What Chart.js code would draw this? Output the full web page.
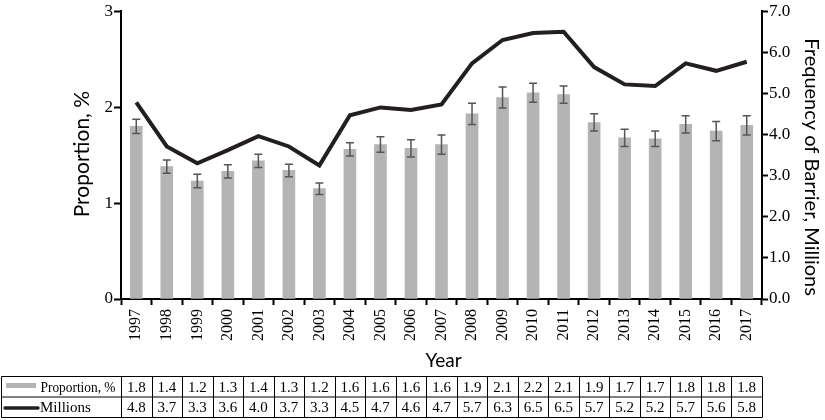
<!DOCTYPE html>
<html>
<head>
<meta charset="utf-8">
<script src="https://cdn.jsdelivr.net/npm/chart.js@4"></script>
<style>
  html, body { margin: 0; padding: 0; background: #fff; }
  #wrap { width: 825px; height: 420px; position: relative; }
</style>
</head>
<body>
<div id="wrap"><canvas id="c" width="825" height="420"></canvas></div>
<script>
const years = ['1997','1998','1999','2000','2001','2002','2003','2004','2005','2006','2007','2008','2009','2010','2011','2012','2013','2014','2015','2016','2017'];
const proportion = [1.80,1.38,1.23,1.33,1.44,1.34,1.15,1.56,1.61,1.57,1.61,1.93,2.10,2.15,2.13,1.84,1.68,1.67,1.82,1.75,1.81];
const proportionErr = [0.075,0.07,0.07,0.07,0.07,0.065,0.06,0.07,0.08,0.09,0.10,0.11,0.11,0.10,0.09,0.09,0.09,0.08,0.09,0.10,0.10];
const millions = [4.78,3.71,3.30,3.62,3.96,3.71,3.25,4.47,4.66,4.60,4.73,5.73,6.30,6.47,6.50,5.64,5.22,5.18,5.73,5.55,5.77];
const tableProportion = ['1.8','1.4','1.2','1.3','1.4','1.3','1.2','1.6','1.6','1.6','1.6','1.9','2.1','2.2','2.1','1.9','1.7','1.7','1.8','1.8','1.8'];
const tableMillions = ['4.8','3.7','3.3','3.6','4.0','3.7','3.3','4.5','4.7','4.6','4.7','5.7','6.3','6.5','6.5','5.7','5.2','5.2','5.7','5.6','5.8'];
const leftTicks = [0,1,2,3];
const rightTicks = [0,1,2,3,4,5,6,7];
const leftTitle = 'Proportion, %';
const rightTitle = 'Frequency of Barrier, Millions';
const xTitle = 'Year';

const SERIF = '"Liberation Serif", "Times New Roman", serif';
const SANS = 'Lato, "Open Sans", sans-serif';

const errorBars = {
  id: 'errorBars',
  afterDatasetDraw(chart, args) {
    if (args.index !== 0) return;
    const ctx = chart.ctx;
    const y = chart.scales.y;
    const meta = chart.getDatasetMeta(0);
    ctx.save();
    ctx.strokeStyle = '#555555';
    ctx.lineWidth = 1.5;
    meta.data.forEach((bar, i) => {
      const x = bar.x;
      const top = y.getPixelForValue(proportion[i] + proportionErr[i]);
      const bot = y.getPixelForValue(proportion[i] - proportionErr[i]);
      ctx.beginPath();
      ctx.moveTo(x, top); ctx.lineTo(x, bot);
      ctx.moveTo(x - 4, top); ctx.lineTo(x + 4, top);
      ctx.moveTo(x - 4, bot); ctx.lineTo(x + 4, bot);
      ctx.stroke();
    });
    ctx.restore();
  }
};

const axisTitles = {
  id: 'axisTitles',
  afterDraw(chart) {
    const ctx = chart.ctx;
    const area = chart.chartArea;
    ctx.save();
    ctx.fillStyle = '#000';
    ctx.textAlign = 'center';
    ctx.textBaseline = 'middle';
    // left
    ctx.save();
    ctx.translate(82, area.top + (area.bottom - area.top) / 2 - 1);
    ctx.rotate(-Math.PI / 2);
    ctx.font = '21px ' + SANS;
    ctx.fillText(leftTitle, 0, 0);
    ctx.restore();
    // right
    ctx.save();
    ctx.translate(811, area.top + (area.bottom - area.top) / 2 + 12);
    ctx.rotate(Math.PI / 2);
    ctx.font = '20px ' + SANS;
    ctx.fillText(rightTitle, 0, 0);
    ctx.restore();
    // x
    ctx.font = '19px ' + SANS;
    ctx.fillText(xTitle, (area.left + area.right) / 2 + 2, 361);
    ctx.restore();
  }
};

const dataTable = {
  id: 'dataTable',
  afterDraw(chart) {
    const ctx = chart.ctx;
    const x = chart.scales.x;
    const n = years.length;
    const left = 1.5, right = x.right;
    const cw = (x.right - x.left) / n;
    const t = 376.5, m = 397, b = 417.5;
    ctx.save();
    ctx.strokeStyle = '#000';
    ctx.lineWidth = 1;
    ctx.beginPath();
    ctx.moveTo(left, t); ctx.lineTo(right, t);
    ctx.moveTo(left, m); ctx.lineTo(right, m);
    ctx.moveTo(left, b); ctx.lineTo(right, b);
    ctx.moveTo(left, t); ctx.lineTo(left, b);
    for (let i = 0; i <= n; i++) {
      const xx = Math.round(x.left + i * cw) + 0.5;
      ctx.moveTo(xx, t); ctx.lineTo(xx, b);
    }
    ctx.stroke();
    // legend markers
    ctx.fillStyle = '#b4b4b4';
    ctx.fillRect(6, 383, 30, 5);
    ctx.strokeStyle = '#231f20';
    ctx.lineWidth = 3.5;
    ctx.lineCap = 'round';
    ctx.beginPath();
    ctx.moveTo(5, 408); ctx.lineTo(38, 408);
    ctx.stroke();
    ctx.fillStyle = '#000';
    ctx.font = '15px ' + SERIF;
    ctx.textBaseline = 'middle';
    ctx.textAlign = 'left';
    ctx.fillText('Proportion, %', 40.5, (t + m) / 2 + 1, 75);
    ctx.fillText('Millions', 40, (m + b) / 2 + 1);
    ctx.textAlign = 'center';
    for (let i = 0; i < n; i++) {
      const cx = x.getPixelForValue(i);
      ctx.fillText(tableProportion[i], cx, (t + m) / 2 + 1);
      ctx.fillText(tableMillions[i], cx, (m + b) / 2 + 1);
    }
    ctx.restore();
  }
};

new Chart(document.getElementById('c'), {
  data: {
    labels: years,
    datasets: [
      {
        type: 'bar',
        label: 'Proportion, %',
        data: proportion,
        backgroundColor: '#b4b4b4',
        barThickness: 12,
        yAxisID: 'y',
        order: 2
      },
      {
        type: 'line',
        label: 'Millions',
        data: millions,
        borderColor: '#231f20',
        borderWidth: 4,
        pointRadius: 0,
        tension: 0,
        yAxisID: 'y1',
        order: 1
      }
    ]
  },
  options: {
    responsive: false,
    animation: false,
    devicePixelRatio: 1,
    layout: { padding: { top: 10, bottom: 46, left: 0, right: 0 } },
    plugins: { legend: { display: false }, tooltip: { enabled: false } },
    scales: {
      x: {
        offset: true,
        grid: { display: true, drawOnChartArea: false, offset: true, tickLength: 6, tickWidth: 2, tickColor: '#000' },
        border: { display: true, color: '#000', width: 2 },
        ticks: { color: '#000', font: { family: SERIF, size: 16 }, minRotation: 90, maxRotation: 90, padding: 4, autoSkip: false },
        title: { display: false },
        afterFit(s) { s.height = 75; }
      },
      y: {
        position: 'left',
        min: 0, max: 3,
        afterBuildTicks(s) { s.ticks = leftTicks.map(v => ({ value: v })); },
        grid: { display: true, drawOnChartArea: false, tickLength: 7, tickWidth: 2, tickColor: '#000' },
        border: { display: true, color: '#000', width: 2 },
        ticks: { color: '#000', font: { family: SERIF, size: 17 }, padding: 1, callback: v => String(v) },
        title: { display: false },
        afterFit(s) { s.width = 121; }
      },
      y1: {
        position: 'right',
        min: 0, max: 7,
        afterBuildTicks(s) { s.ticks = rightTicks.map(v => ({ value: v })); },
        grid: { display: true, drawOnChartArea: false, tickLength: 6, tickWidth: 2, tickColor: '#000' },
        border: { display: true, color: '#000', width: 2 },
        ticks: { color: '#000', font: { family: SERIF, size: 17 }, padding: 1, callback: v => Number(v).toFixed(1) },
        title: { display: false },
        afterFit(s) { s.width = 63; }
      }
    }
  },
  plugins: [errorBars, axisTitles, dataTable]
});
</script>
</body>
</html>
